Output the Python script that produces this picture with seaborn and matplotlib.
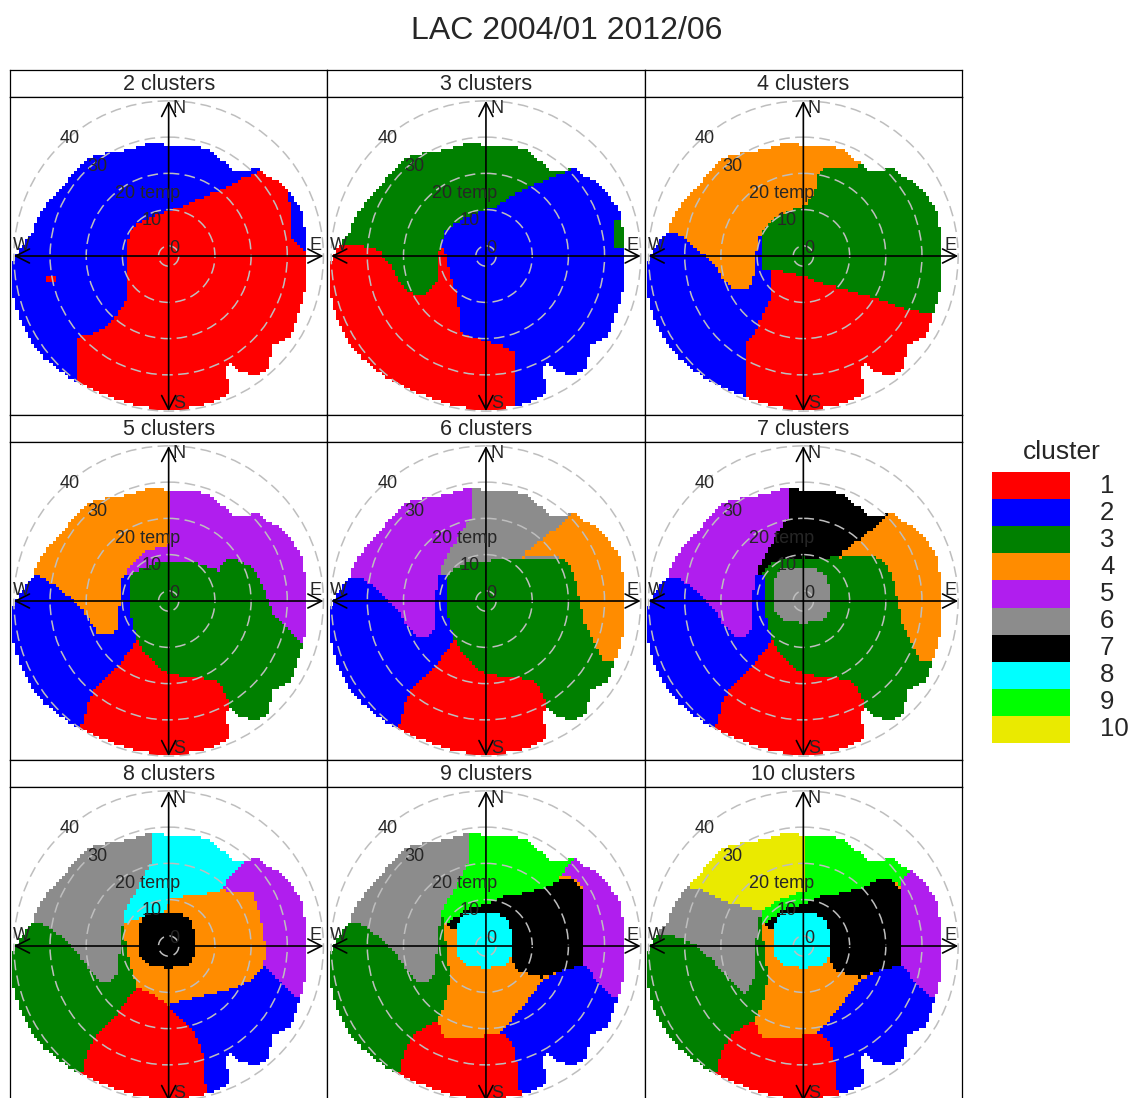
import numpy as np
import pandas as pd
import matplotlib
matplotlib.use("Agg")
import matplotlib.pyplot as plt
from matplotlib.colors import ListedColormap
from matplotlib.path import Path
from matplotlib.patches import Circle, FancyArrowPatch
import seaborn as sns

sns.set_style("white")
plt.rcParams["font.family"] = ["Liberation Sans", "DejaVu Sans"]

title = "LAC 2004/01 2012/06"
cluster_ids = [1, 2, 3, 4, 5, 6, 7, 8, 9, 10]
cluster_colours = ["#FF0000", "#0000FF", "#008000", "#FF8C00", "#B01EEE",
                   "#8C8C8C", "#000000", "#00FFFF", "#00FF00", "#EAEA00"]

temp_min = -2.8
temp_breaks = [0, 10, 20, 30, 40]
radial_var = "temp"

# outer edge of the data (radial units) by wind direction (deg, clockwise from N)
edge_dir = [0, 10, 20, 30, 37, 41, 45, 50, 55, 62, 71, 82, 90, 98, 109, 117, 123,
            130, 136, 140, 145, 148, 150, 153, 157, 162, 170, 180, 190, 202, 216,
            230, 242, 251, 265, 280, 292, 297, 302, 312, 324, 331, 337, 347, 353]
edge_r = [30.2, 31.3, 31.3, 30.1, 29.7, 31, 34.5, 35, 36.3, 37.5, 39, 38.3, 38.4,
          38.7, 39, 39.6, 40.5, 38, 40.2, 42, 40, 38, 33, 35.5, 41.8, 42, 42.3,
          42.3, 42.3, 42, 42.8, 44.4, 44.8, 44.4, 44, 38.3, 36.7, 36.2, 34.7, 35.1,
          34.5, 32.4, 31.6, 31.2, 31.8]

# cluster regions as (u, v) outlines in radial units
p1_red = [(24.5, 22.9), (20.5, 21.4), (16.8, 19.5), (13.2, 17.7), (7.7, 15.6), (4.1, 13.8),
          (0, 12.3), (-5, 10.9), (-8.6, 8.6), (-10.9, 6.4), (-11.4, 3.6), (-11.4, -10.9),
          (-13.2, -14.5), (-15.9, -18.2), (-19.5, -20.9), (-25.5, -22.7), (-25.5, -60),
          (60, -60), (60, 1.5), (37, 1.5), (34, 5), (33.6, 14.5), (32.7, 16.8), (45, 35),
          (26, 40), (26, 24)]
p1_spot = [(-34.1, -5.5), (-31.4, -5.5), (-31.4, -7.7), (-34.1, -7.7)]

p2_green = [(25, 24.5), (20.9, 22.9), (16.8, 20.9), (11.4, 18.9), (7.7, 17.1), (5, 15.3),
            (3.2, 13.6), (0, 12.7), (-3.2, 11.6), (-6.4, 10.2), (-9.5, 8.2), (-11.8, 6.4),
            (-12.3, 1.8), (-12.7, -12.7), (-60, -12.7), (-60, 60), (25, 60)]
p2_green_spot = [(35.5, 9.5), (45, 9.5), (45, 1.8), (35.5, 1.8)]
p2_red = [(-60, 3.2), (-42.7, 3.2), (-34.1, 2.7), (-29.5, 1.4), (-25.9, -3.2), (-23.3, -8.2),
          (-19.2, -10.9), (-16.5, -10.5), (-13.7, -7.3), (-13.3, 0.9), (-12.3, 2.3),
          (-11.5, 2.3), (-10.5, -2.7), (-8.7, -8.2), (-7.8, -11.8), (-7.4, -20), (-6, -21.8),
          (0.5, -23.6), (5, -25), (8.2, -26.4), (8.2, -60), (-60, -60)]

p3_orange = [(-60, 6.4), (-36.4, 6.4), (-34.1, 5.9), (-29.5, 1.8), (-25, -1.8), (-21.4, -7.3),
             (-18.6, -9.5), (-15.9, -9.1), (-14.1, -7.3), (-13.2, -3.6), (-12.7, 3.6),
             (-11.4, 7.3), (-9.5, 9.1), (-6.8, 10.9), (-3.2, 12.7), (0.5, 14.1), (3.2, 17.3),
             (4.1, 22.7), (5.9, 24.1), (16.8, 25), (16.8, 60), (-60, 60)]
p3_blue = [(-60, 12), (-11.4, 12), (-11.4, 7.3), (-11.2, -3.6), (-8.6, -3.6), (-8.6, -10.9),
           (-11.4, -16.4), (-13.2, -20.9), (-15.9, -24.5), (-15.5, -40), (-15.5, -60),
           (-60, -60)]
p3_red = [(-8.6, -3.6), (-5, -4.5), (0, -5.5), (4.1, -7.3), (11.4, -9.1), (20.5, -11.8),
          (27.7, -14.5), (34.1, -15.9), (60, -15.9), (60, -60), (-15.5, -60), (-15.5, -40),
          (-15.9, -24.5), (-13.2, -20.9), (-11.4, -16.4), (-8.6, -10.9)]

p4_purple = [(-15, 60), (60, 60), (60, -11.8), (36.8, -11.8), (35, -10), (32.3, -7.3),
             (29.5, -4.5), (27.7, 0), (25.9, 4.5), (24.1, 8.2), (20.5, 10.9), (16.8, 11.8),
             (15, 10.9), (14.1, 8.2), (11.4, 9.1), (7.7, 10.5), (4.1, 10.9), (0, 10.9),
             (-3.2, 10.5), (-6.8, 9.1), (-10.5, 7.3), (-15, 7.3)]
p4_orange = [(-60, 7.3), (-36.4, 7.3), (-34.1, 6.4), (-29.5, 2.7), (-25, -0.9), (-21.4, -6.4),
             (-19.5, -9.1), (-15.9, -9.3), (-14.1, -7.3), (-13.6, 0), (-13.2, 5.5),
             (-11.4, 8.2), (-9.5, 10.9), (-6.8, 13.5), (-3.2, 14.7), (0.3, 15.5), (0.3, 60),
             (-60, 60)]
sw_blue = [(-60, 7.3), (-10.9, 7.3), (-10.5, -3.6), (-9.1, -9.1), (-8.6, -10.9), (-11.4, -14.5),
           (-14.1, -18.2), (-17.7, -21.8), (-20.5, -24.5), (-22.3, -28.2), (-24.1, -34.5),
           (-24.5, -40), (-24.5, -60), (-60, -60)]
s_red = [(-8.6, -10.9), (-6.8, -14.5), (-3.2, -18.2), (0.5, -20.2), (7.7, -21.1), (13.2, -21.8),
         (15, -24.5), (16.4, -27.3), (16.4, -60), (-24.5, -60), (-24.5, -40), (-24.1, -34.5),
         (-22.3, -28.2), (-20.5, -24.5), (-17.7, -21.8), (-14.1, -18.2), (-11.4, -14.5)]

p5_grey = [(-3.9, 60), (-3.9, 23.6), (-6.8, 19.1), (-9.5, 14.5), (-12.3, 9.5), (-13.6, 4.1),
           (-10.9, 6.4), (-8.6, 8.6), (-5, 10.5), (0, 10.9), (5.9, 11.8), (9.5, 11.8),
           (30, 11.8), (30, 60)]
ne_orange = [(24.1, 24.5), (20.5, 20.9), (15.9, 17.3), (11.4, 14.1), (9.5, 11.8), (13.2, 12.3),
             (16.8, 12.7), (19.5, 12.3), (22.3, 10.9), (24.1, 8.2), (25, 4.5), (25.9, 0),
             (26.8, -3.6), (27.7, -7.3), (29.5, -10.9), (32.3, -16.4), (60, -16.4), (60, 60),
             (30, 60)]
nw_purple = [(-60, 6.8), (-35, 6.8), (-29.5, 2.7), (-25, -1.8), (-21.4, -7.3), (-19.5, -9.5),
             (-15.9, -9.5), (-14.1, -7.3), (-13.9, 0), (-13.6, 4.1), (-12.3, 9.5), (-9.5, 14.5),
             (-6.8, 19.1), (-3.9, 23.6), (-3.9, 60), (-60, 60)]

p6_black = [(-20, 60), (30, 60), (30, 11.8), (10.5, 12.3), (5.9, 11.8), (0, 12), (-5, 11.6),
            (-8.6, 10.5), (-11.4, 8.2), (-13.2, 5.5), (-20, 5.5)]
centre_disk = [(-8.2, 5.5), (-6.8, 8.4), (-3.2, 9.3), (2.3, 9.3), (5.9, 7.5), (7.3, 3.6),
               (7.3, -2.9), (5, -5.5), (0, -6.2), (-5, -5.5), (-7.7, -3.2), (-8.2, 1.8)]

nw_grey = [(-60, 6.5), (-35, 6.5), (-29.5, 2.4), (-25, -2.2), (-21.4, -7.6), (-18.6, -9.9),
           (-15.9, -9.9), (-14.1, -7.6), (-13.6, -0.4), (-13.2, 3.7), (-11.8, 10.5),
           (-9.5, 14.2), (-6.8, 19.6), (-4.5, 23.3), (-4.5, 60), (-60, 60)]
p7_cyan = [(-20, 60), (21.4, 60), (21.4, 23.3), (19.5, 21.5), (16.8, 18.7), (14.1, 15.5),
           (11.4, 14.6), (4.1, 13.7), (0.5, 13.3), (-0.5, 9.6), (-4.1, 8.5), (-7.7, 7.8),
           (-10.5, 6.9), (-11.8, 6.5), (-20, 6.5)]
p7_purple = [(21.4, 60), (21.4, 23.3), (19.5, 21.5), (16.8, 18.7), (14.1, 15.5), (23.2, 15.1),
             (24.1, 12.4), (25.9, 5.1), (26.8, -0.4), (26.4, -5.8), (29.5, -8.5), (32.3, -11.3),
             (35, -14), (60, -14), (60, 60)]
w_green7 = [(-60, 8), (-12, 8), (-12.3, 3.7), (-11.8, -0.4), (-10.5, -5.8), (-8.6, -11.3),
            (-11.4, -14.9), (-14.1, -18.5), (-17.7, -22.2), (-20.5, -24.9), (-22.3, -28.5),
            (-24.1, -34.9), (-24.5, -40.4), (-24.5, -60), (-60, -60)]
p7_red = [(-8.6, -11.3), (-5, -13.1), (0, -16.3), (1.4, -18.5), (5, -21.3), (7.7, -24.9),
          (9.5, -29.5), (10.5, -40.4), (10.5, -60), (-24.5, -60), (-24.5, -40.4),
          (-24.1, -34.9), (-22.3, -28.5), (-20.5, -24.9), (-17.7, -22.2), (-14.1, -18.5),
          (-11.4, -14.9)]
p7_blue = [(0, -16.3), (6.8, -14.5), (15.9, -12.2), (22.3, -9.9), (26.4, -5.8), (29.5, -8.5),
           (32.3, -11.3), (35, -14), (60, -14), (60, -60), (10.5, -60), (10.5, -40.4),
           (9.5, -29.5), (7.7, -24.9), (5, -21.3), (1.4, -18.5)]

p8_lime = [(-20, 60), (25, 60), (24.5, 23.7), (22.3, 21.5), (20.5, 19.2), (20.5, 18.3),
           (15.9, 16), (11.4, 14.8), (5, 13.7), (0, 11.6), (-5, 10.1), (-7.7, 8.5),
           (-10.5, 6.5), (-20, 6.5)]
p8_purple = [(25, 60), (24.5, 23.7), (22.3, 21.5), (20.5, 19.2), (24.1, 18.7), (26.8, 16.4),
             (27.3, -5.4), (29.5, -8.1), (32.3, -11.3), (35, -14), (60, -14), (60, 60)]
p8_black = [(-10.5, 6.5), (-7.7, 8.5), (-5, 10.1), (0, 11.6), (5, 13.7), (11.4, 14.8),
            (15.9, 16), (20.5, 18.1), (24.1, 18.3), (26.8, 16), (27.3, -5.4), (20.5, -6.9),
            (15.9, -8.7), (9.5, -7.2), (7.7, -4.9), (6.4, -0.4), (-0.5, 1.5), (-8.6, 4.6),
            (-10.9, 5.5)]
w_green8 = [(-60, 8), (-12, 8), (-11.8, 5.1), (-10.9, -0.4), (-10, -7.6), (-10.5, -13.1),
            (-11.8, -16.7), (-13.2, -20.4), (-17.7, -23.1), (-20.5, -24.9), (-22.3, -28.5),
            (-24.1, -34.9), (-24.5, -40.4), (-24.5, -60), (-60, -60)]
p8_red = [(-13.2, -20.4), (-11.8, -24.9), (-3.2, -25.4), (4.1, -24), (6.8, -25.8), (8.2, -29.5),
          (9.5, -40.4), (9.5, -60), (-24.5, -60), (-24.5, -40.4), (-24.1, -34.9),
          (-22.3, -28.5), (-20.5, -24.9), (-17.7, -23.1)]
p8_blue = [(4.1, -24), (7.7, -19.5), (13.2, -13.1), (15.5, -9.5), (20.5, -6.9), (27.3, -5.4),
           (29.5, -8.1), (32.3, -11.3), (35, -14), (60, -14), (60, -60), (9.5, -60),
           (9.5, -40.4), (8.2, -29.5), (6.8, -25.8)]

p9_lime = [(-20, 60), (29.5, 60), (29.5, 20), (27.7, 18.9), (26.8, 16.9), (24.1, 17.8),
           (20.5, 17.4), (15.9, 16), (11.4, 14.6), (5, 13.3), (0, 11.6), (-5, 10.1),
           (-7.7, 8.5), (-10.5, 6.5), (-20, 6.5)]
p9_purple = [(29.5, 60), (60, 60), (60, -15.8), (34.1, -15.8), (32.3, -14), (29.5, -12.2),
             (26.8, -7.6), (26.8, 16.9), (27.7, 18.9), (29.5, 20)]
p9_grey = [(-60, 3.7), (-42.3, 3.7), (-34.1, 2.4), (-29.5, 0.1), (-25, -4), (-21.4, -8.5),
           (-18.6, -11.3), (-15.9, -13.1), (-13.6, -8.5), (-13.2, -0.4), (-12.3, 6),
           (-11.8, 9.6), (-11.8, 20), (-60, 20)]
p9_yellow = [(-60, 60), (0.3, 60), (0.3, 15.1), (-3.2, 14.2), (-6.8, 12.5), (-10.5, 10.5),
             (-12.3, 9.6), (-15.9, 10.8), (-20.5, 11.9), (-25, 14.2), (-29.5, 16),
             (-33.2, 16.5), (-60, 16.5)]

# (strip, base cluster, regions painted in order)
panels = [
    ("2 clusters", 2, [(1, p1_red), (1, p1_spot)]),
    ("3 clusters", 2, [(3, p2_green), (3, p2_green_spot), (1, p2_red)]),
    ("4 clusters", 3, [(2, p3_blue), (4, p3_orange), (1, p3_red)]),
    ("5 clusters", 3, [(5, p4_purple), (2, sw_blue), (4, p4_orange), (1, s_red)]),
    ("6 clusters", 3, [(6, p5_grey), (4, ne_orange), (2, sw_blue), (5, nw_purple), (1, s_red)]),
    ("7 clusters", 3, [(7, p6_black), (4, ne_orange), (2, sw_blue), (5, nw_purple), (1, s_red),
                       (6, centre_disk)]),
    ("8 clusters", 4, [(8, p7_cyan), (3, w_green7), (6, nw_grey), (5, p7_purple), (1, p7_red),
                       (2, p7_blue), (7, centre_disk)]),
    ("9 clusters", 4, [(9, p8_lime), (3, w_green8), (6, nw_grey), (5, p8_purple), (7, p8_black),
                       (1, p8_red), (2, p8_blue), (8, centre_disk)]),
    ("10 clusters", 4, [(9, p9_lime), (3, w_green8), (6, p9_grey), (10, p9_yellow),
                        (5, p9_purple), (7, p8_black), (1, p8_red), (2, p8_blue),
                        (8, centre_disk)]),
]

upper = temp_breaks[-1] - temp_min
n_grid = 101
step = 2 * upper / (n_grid - 1)
lim = upper * 1.025

coords = np.linspace(-upper, upper, n_grid)
U, V = np.meshgrid(coords, coords[::-1])
grid_pts = np.column_stack([U.ravel(), V.ravel()])
theta = np.degrees(np.arctan2(U, V)) % 360
outside = np.hypot(U, V) > np.interp(theta, edge_dir, edge_r, period=360)


def cluster_grid(base, layers):
    g = np.full((n_grid, n_grid), float(base))
    for cl, poly in layers:
        inside = Path(poly).contains_points(grid_pts).reshape(n_grid, n_grid)
        g[inside] = cl
    g[outside] = np.nan
    return pd.DataFrame(g)


def gx(u):
    return (u + upper) / step + 0.5


def gy(v):
    return (upper - v) / step + 0.5


cmap = ListedColormap(cluster_colours)
W, H = 1135, 1098
fig = plt.figure(figsize=(W / 100, H / 100), dpi=100)
fig.patch.set_facecolor("white")

col_x = [10, 327.3, 644.7]
row_top = [70, 415, 760]
pw, ph, sh = 317.3, 318, 27

for k, (strip, base, layers) in enumerate(panels):
    x0 = col_x[k % 3]
    t0 = row_top[k // 3]

    sax = fig.add_axes([x0 / W, 1 - (t0 + sh) / H, pw / W, sh / H])
    sax.set_xticks([])
    sax.set_yticks([])
    for s in sax.spines.values():
        s.set_color("black")
        s.set_linewidth(0.9)
    sax.text(0.5, 0.45, strip, ha="center", va="center", fontsize=15.5,
             transform=sax.transAxes)

    ax = fig.add_axes([x0 / W, 1 - (t0 + sh + ph) / H, pw / W, ph / H])
    df = cluster_grid(base, layers)
    sns.heatmap(df, ax=ax, cmap=cmap, vmin=0.5, vmax=10.5, cbar=False,
                xticklabels=False, yticklabels=False, mask=df.isna())
    ax.set_xlim(gx(-lim), gx(lim))
    ax.set_ylim(gy(-lim), gy(lim))
    for s in ax.spines.values():
        s.set_visible(True)
        s.set_color("black")
        s.set_linewidth(0.9)

    for b in temp_breaks:
        ax.add_patch(Circle((gx(0), gy(0)), (b - temp_min) / step, fill=False,
                            edgecolor="#BEBEBE", lw=1.1, linestyle=(0, (7, 3.5)), zorder=3))
    for a, b in [((-upper, 0), (upper, 0)), ((0, -upper), (0, upper))]:
        ax.add_patch(FancyArrowPatch((gx(a[0]), gy(a[1])), (gx(b[0]), gy(b[1])),
                                     arrowstyle="<->,head_length=0.55,head_width=0.28",
                                     mutation_scale=18, lw=1.2, color="black",
                                     shrinkA=0, shrinkB=0, zorder=4))
    for lab, (u, v) in [("N", (0.07, 0.95)), ("E", (0.95, 0.07)),
                        ("S", (0.07, -0.95)), ("W", (-0.95, 0.07))]:
        ax.text(gx(u * upper), gy(v * upper), lab, ha="center", va="center",
                fontsize=13, zorder=5)
    for i, b in enumerate(temp_breaks):
        r = 1.07 * (b - temp_min) * np.sqrt(0.5)
        lab = f"{b} {radial_var}" if i == 2 else str(b)
        ax.annotate(lab, xy=(gx(-r), gy(r)), xytext=(6, 0), textcoords="offset points",
                    ha="left", va="center", fontsize=13, zorder=5)

fig.text(567 / W, 1 - 31 / H, title, ha="center", va="center", fontsize=23)

# legend key
lax = fig.add_axes([992 / W, 1 - 743 / H, 78 / W, 271 / H])
sns.heatmap(pd.DataFrame(np.array(cluster_ids).reshape(-1, 1)), ax=lax, cmap=cmap,
            vmin=0.5, vmax=10.5, cbar=False, xticklabels=False, yticklabels=False)
fig.text(1062 / W, 1 - 452 / H, "cluster", ha="center", va="center", fontsize=19)
for i, c in enumerate(cluster_ids):
    fig.text(1100 / W, 1 - (472 + 27.1 * (i + 0.5)) / H, str(c), ha="left", va="center",
             fontsize=18.5)

fig.savefig("out.png", dpi=100, facecolor="white")
